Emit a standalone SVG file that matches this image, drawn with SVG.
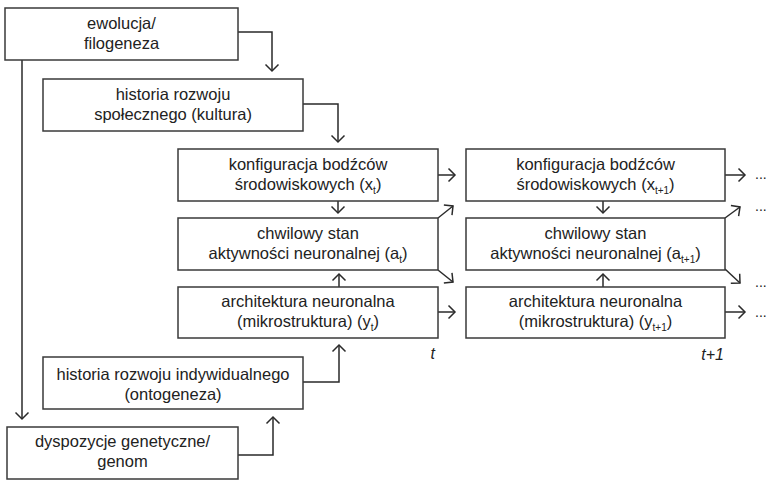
<svg xmlns="http://www.w3.org/2000/svg" width="770" height="481" viewBox="0 0 770 481">
<style>
.box{fill:#fff;stroke:#3a3a3a;stroke-width:1.5}
.lbl{font-family:"Liberation Sans",Arial,sans-serif;font-size:16.5px;fill:#222;text-anchor:middle}
.sub{font-size:10px}
.con{fill:none;stroke:#2a2a2a;stroke-width:1.5}
.dots{font-family:"Liberation Sans",Arial,sans-serif;font-size:14px;fill:#222}
.time{font-family:"Liberation Sans",Arial,sans-serif;font-size:16px;font-style:italic;fill:#222;text-anchor:end}
</style>
<defs>
<marker id="arr" markerUnits="userSpaceOnUse" markerWidth="16" markerHeight="16" viewBox="-8 -8 16 16" refX="0" refY="0" orient="auto">
<path d="M-6.5,-6.5 L0,0 L-6.5,6.5" fill="none" stroke="#2a2a2a" stroke-width="1.5"/>
</marker>
</defs>
<rect width="770" height="481" fill="#fff"/>
<g id="connectors">
<path class="con" d="M238,32 H272 V71" marker-end="url(#arr)"/>
<path class="con" d="M303,104 H338 V142" marker-end="url(#arr)"/>
<path class="con" d="M22,60 V419" marker-end="url(#arr)"/>
<path class="con" d="M238,455 H273 V417" marker-end="url(#arr)"/>
<path class="con" d="M303,382 H339 V345" marker-end="url(#arr)"/>
<path class="con" d="M338,201 V213" marker-end="url(#arr)"/>
<path class="con" d="M339,287 V274" marker-end="url(#arr)"/>
<path class="con" d="M603,201 V213" marker-end="url(#arr)"/>
<path class="con" d="M603,287 V274" marker-end="url(#arr)"/>
<path class="con" d="M438,175 H455" marker-end="url(#arr)"/>
<path class="con" d="M438,312 H455" marker-end="url(#arr)"/>
<path class="con" d="M438,218 L453,206" marker-end="url(#arr)"/>
<path class="con" d="M438,270 L453,282" marker-end="url(#arr)"/>
<path class="con" d="M725,175 H745" marker-end="url(#arr)"/>
<path class="con" d="M725,312 H745" marker-end="url(#arr)"/>
<path class="con" d="M725,218 L740,207" marker-end="url(#arr)"/>
<path class="con" d="M725,269 L740,283" marker-end="url(#arr)"/>
</g>
<g id="ewolucja">
<rect class="box" x="5" y="8" width="233" height="52"/>
<text class="lbl" x="121.5" y="29">ewolucja/</text>
<text class="lbl" x="121.5" y="49">filogeneza</text>
</g>
<g id="historia-spoleczna">
<rect class="box" x="43" y="79" width="260" height="52"/>
<text class="lbl" x="173" y="100">historia rozwoju</text>
<text class="lbl" x="173" y="120">społecznego (kultura)</text>
</g>
<g id="konfiguracja-t">
<rect class="box" x="178" y="149" width="260" height="52"/>
<text class="lbl" x="308" y="170">konfiguracja bodźców</text>
<text class="lbl" x="308" y="190">środowiskowych (x<tspan class="sub" dy="4">t</tspan><tspan dy="-4">)</tspan></text>
</g>
<g id="chwilowy-t">
<rect class="box" x="178" y="218" width="260" height="52"/>
<text class="lbl" x="308" y="239">chwilowy stan</text>
<text class="lbl" x="308" y="259">aktywności neuronalnej (a<tspan class="sub" dy="4">t</tspan><tspan dy="-4">)</tspan></text>
</g>
<g id="architektura-t">
<rect class="box" x="178" y="287" width="260" height="51"/>
<text class="lbl" x="308" y="307">architektura neuronalna</text>
<text class="lbl" x="308" y="327">(mikrostruktura) (y<tspan class="sub" dy="4">t</tspan><tspan dy="-4">)</tspan></text>
</g>
<g id="konfiguracja-t1">
<rect class="box" x="466" y="149" width="259" height="52"/>
<text class="lbl" x="595.5" y="170">konfiguracja bodźców</text>
<text class="lbl" x="595.5" y="190">środowiskowych (x<tspan class="sub" dy="4">t+1</tspan><tspan dy="-4">)</tspan></text>
</g>
<g id="chwilowy-t1">
<rect class="box" x="466" y="218" width="259" height="52"/>
<text class="lbl" x="595.5" y="239">chwilowy stan</text>
<text class="lbl" x="595.5" y="259">aktywności neuronalnej (a<tspan class="sub" dy="4">t+1</tspan><tspan dy="-4">)</tspan></text>
</g>
<g id="architektura-t1">
<rect class="box" x="466" y="287" width="259" height="51"/>
<text class="lbl" x="595.5" y="307">architektura neuronalna</text>
<text class="lbl" x="595.5" y="327">(mikrostruktura) (y<tspan class="sub" dy="4">t+1</tspan><tspan dy="-4">)</tspan></text>
</g>
<g id="historia-indywidualna">
<rect class="box" x="43" y="357" width="260" height="52"/>
<text class="lbl" x="173" y="380">historia rozwoju indywidualnego</text>
<text class="lbl" x="173" y="400">(ontogeneza)</text>
</g>
<g id="dyspozycje">
<rect class="box" x="7" y="427" width="231" height="52"/>
<text class="lbl" x="122.5" y="447">dyspozycje genetyczne/</text>
<text class="lbl" x="122.5" y="467">genom</text>
</g>
<g id="labels">
<text class="time" x="435" y="359">t</text>
<text class="time" x="724" y="360">t+1</text>
<text class="dots" x="755" y="179">...</text>
<text class="dots" x="755" y="211">...</text>
<text class="dots" x="755" y="287">...</text>
<text class="dots" x="755" y="317">...</text>
</g>
</svg>
